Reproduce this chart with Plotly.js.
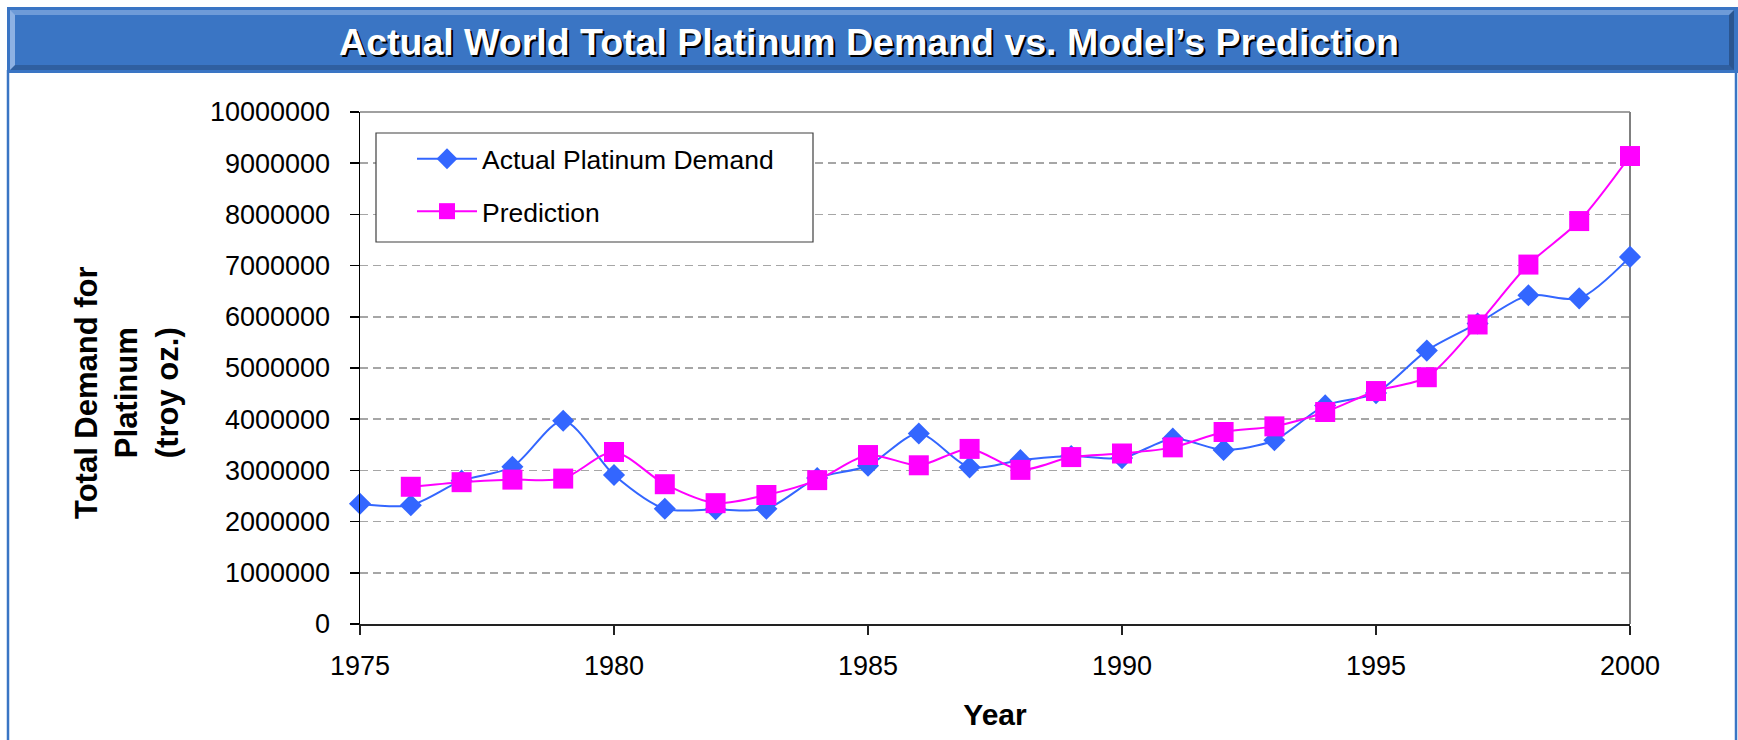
<!DOCTYPE html>
<html>
<head>
<meta charset="utf-8">
<script src="https://cdn.plot.ly/plotly-3.0.1.min.js"></script>
<style>html,body{margin:0;padding:0;background:#fff;}#chart{width:1738px;height:740px;}</style>
</head>
<body>
<div id="chart"></div>
<script>
// ---- data ----
const years = [1975,1976,1977,1978,1979,1980,1981,1982,1983,1984,1985,1986,1987,1988,1989,1990,1991,1992,1993,1994,1995,1996,1997,1998,1999,2000];
const actualDemand = [2350000,2320000,2800000,3070000,3970000,2910000,2250000,2240000,2250000,2850000,3090000,3720000,3060000,3200000,3280000,3240000,3620000,3400000,3590000,4270000,4510000,5340000,5870000,6420000,6360000,7170000];
const predictedDemand = [null,2680000,2770000,2820000,2840000,3360000,2730000,2360000,2520000,2810000,3300000,3100000,3420000,3010000,3260000,3330000,3450000,3750000,3860000,4140000,4550000,4820000,5850000,7020000,7870000,9140000];
const seriesNames = ["Actual Platinum Demand", "Prediction"];
const chartTitle = "Actual World Total Platinum Demand vs. Model\u2019s Prediction";
const xTitle = "Year";
const yTitle = "Total Demand for<br>Platinum<br>(troy oz.)";

// ---- geometry helpers (pixel -> paper) ----
const W = 1738, H = 740;
const M = {l: 360, r: 108, t: 112, b: 116};
const PW = W - M.l - M.r, PH = H - M.t - M.b;
const px = v => (v - M.l) / PW;
const py = v => (H - M.b - v) / PH;

const FONT = "Liberation Sans, Arial, sans-serif";
const BLUE = "#3366FF", PINK = "#FF00FF";

const traces = [
  {x: years, y: actualDemand, name: seriesNames[0], type: "scatter", mode: "lines+markers",
   legendgroup: "a", cliponaxis: false,
   line: {color: BLUE, width: 2, shape: "spline", smoothing: 0.8},
   marker: {symbol: "diamond", size: 17, color: BLUE}},
  {x: years, y: predictedDemand, name: seriesNames[1], type: "scatter", mode: "lines+markers",
   legendgroup: "b", cliponaxis: false, connectgaps: false,
   line: {color: PINK, width: 2, shape: "spline", smoothing: 0.8},
   marker: {symbol: "square", size: 20, color: PINK}}
];

const shapes = [
  // panel side borders
  {type: "line", xref: "paper", yref: "paper", x0: px(8), x1: px(8), y0: py(70), y1: py(745), line: {color: "#3A75C4", width: 2.5}, layer: "below"},
  {type: "line", xref: "paper", yref: "paper", x0: px(1736), x1: px(1736), y0: py(70), y1: py(745), line: {color: "#3A75C4", width: 2.5}, layer: "below"},
  // title bar
  {type: "rect", xref: "paper", yref: "paper", x0: px(7), x1: px(1738), y0: py(7), y1: py(73), fillcolor: "#3A75C4", line: {width: 0}, layer: "below"},
  {type: "rect", xref: "paper", yref: "paper", x0: px(10), x1: px(1734), y0: py(10), y1: py(15), fillcolor: "#6E9BD8", line: {width: 0}, layer: "below"},
  {type: "rect", xref: "paper", yref: "paper", x0: px(10), x1: px(1734), y0: py(65), y1: py(70), fillcolor: "#2F5FA0", line: {width: 0}, layer: "below"},
  {type: "path", xref: "paper", yref: "paper", layer: "below", fillcolor: "#8DB1E3", line: {width: 0},
   path: `M ${px(10)},${py(10)} L ${px(15)},${py(15)} L ${px(15)},${py(65)} L ${px(10)},${py(70)} Z`},
  {type: "path", xref: "paper", yref: "paper", layer: "below", fillcolor: "#2A5590", line: {width: 0},
   path: `M ${px(1734)},${py(10)} L ${px(1729)},${py(15)} L ${px(1729)},${py(65)} L ${px(1734)},${py(70)} Z`},
  // plot area top & right border
  {type: "line", xref: "paper", yref: "paper", x0: 0, x1: 1, y0: 1, y1: 1, line: {color: "#808080", width: 1.5}, layer: "above"},
  {type: "line", xref: "paper", yref: "paper", x0: 1, x1: 1, y0: 0, y1: 1, line: {color: "#808080", width: 2}, layer: "below"},
  // legend box (covers gridlines; no data falls in this region)
  {type: "rect", xref: "paper", yref: "paper", x0: px(376), x1: px(813), y0: py(133), y1: py(242), line: {color: "#404040", width: 1.2}, fillcolor: "#ffffff", layer: "above"}
];

const layout = {
  width: W, height: H,
  margin: M,
  paper_bgcolor: "#ffffff", plot_bgcolor: "rgba(0,0,0,0)",
  font: {family: FONT, size: 27, color: "#000"},
  showlegend: true,
  title: {text: chartTitle, x: 0.5, xref: "container", xanchor: "center",
          y: 1 - 42 / H, yref: "container", yanchor: "middle",
          font: {family: FONT, size: 37.5, weight: "bold", color: "#ffffff", shadow: "2px 2px 0px #000000"}},
  xaxis: {range: [1975, 2000], dtick: 5, tick0: 1975, showgrid: false, zeroline: false,
          showline: true, linecolor: "#222", linewidth: 2,
          ticks: "outside", ticklen: 9, tickcolor: "#222", tickwidth: 1.5,
          tickfont: {family: FONT, size: 27, color: "#000"}, ticklabelstandoff: 8,
          title: {text: xTitle, standoff: 24, font: {family: FONT, size: 30, weight: "bold", color: "#000"}}},
  yaxis: {range: [0, 10000000], dtick: 1000000, tick0: 0, tickformat: "d",
          showgrid: true, gridcolor: "#A6A6A6", gridwidth: 1.5, griddash: "8px,5px",
          zeroline: false, showline: true, linecolor: "#000", linewidth: 1.5,
          ticks: "outside", ticklen: 9, tickcolor: "#000", tickwidth: 1.5,
          tickfont: {family: FONT, size: 27, color: "#000"}, ticklabelstandoff: 14},
  legend: {x: px(412), y: py(135), xanchor: "left", yanchor: "top",
           bgcolor: "rgba(0,0,0,0)", borderwidth: 0, traceorder: "grouped", tracegroupgap: 15,
           itemwidth: 60, font: {family: FONT, size: 26.5, color: "#000"}},
  shapes: shapes,
  annotations: [
    {text: yTitle, xref: "paper", yref: "paper", x: px(127), y: py(393), xanchor: "center", yanchor: "middle",
     textangle: -90, showarrow: false, font: {family: FONT, size: 31, weight: "bold", color: "#000"}}
  ]
};

Plotly.newPlot("chart", traces, layout, {displayModeBar: false, staticPlot: true});
</script>
</body>
</html>
